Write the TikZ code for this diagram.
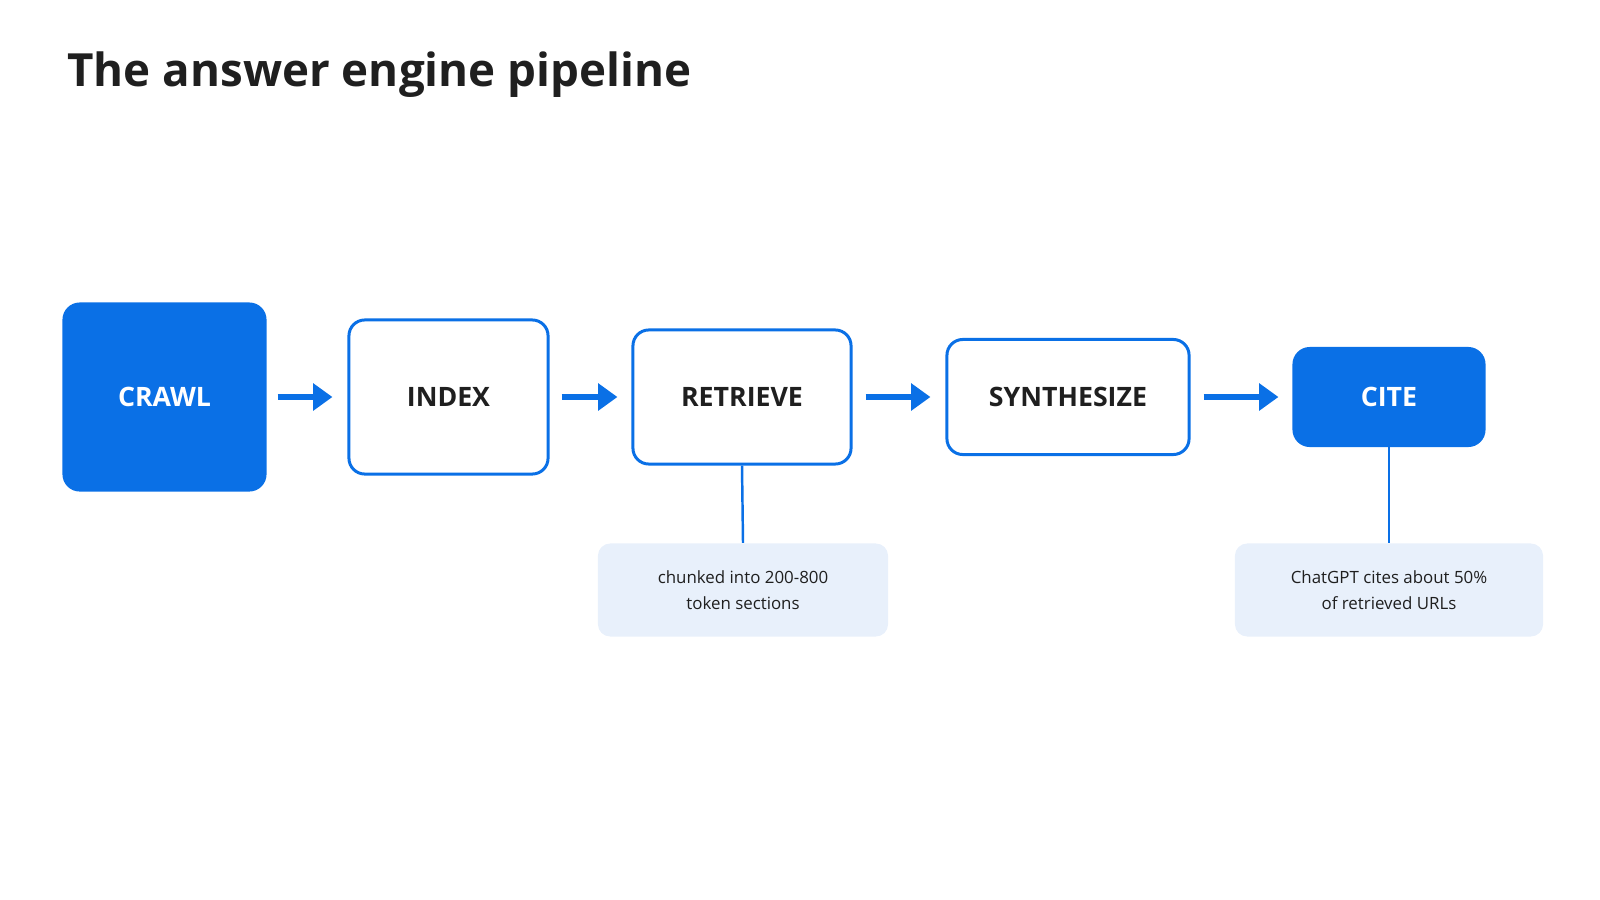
\documentclass[tikz,border=0pt]{standalone}
\usepackage{fontspec}
\setmainfont{Open Sans}
\usetikzlibrary{arrows.meta}
\definecolor{blue}{HTML}{0A70E6}
\definecolor{notebg}{HTML}{E8F0FB}
\definecolor{ink}{HTML}{1F1F1F}
\begin{document}
\begin{tikzpicture}[x=0.01cm,y=-0.01cm,
  stage/.style={rectangle,rounded corners=4.5pt,draw=blue,line width=0.85pt,fill=white,
    text=ink,font=\fontsize{7.6}{10}\selectfont\bfseries,inner sep=0pt},
  solid stage/.style={stage,fill=blue,text=white},
  note/.style={rectangle,rounded corners=3.5pt,fill=notebg,text=ink,align=center,
    font=\fontsize{4.8}{7.4}\selectfont,inner sep=0pt,minimum height=0.93cm},
  flow/.style={draw=blue,line width=1.6pt,-{Triangle[length=5.5pt,width=7.5pt]}},
  link/.style={draw=blue,line width=0.7pt}]
    \useasboundingbox (0,0) rectangle (1600,900);
    \node[anchor=west,text=ink,font=\fontsize{13}{15}\selectfont\bfseries] (title) at (55,75) {The answer engine pipeline};

    \node[solid stage,minimum width=2.01cm,minimum height=1.86cm] (crawl) at (164.5,397) {CRAWL};
    \node[stage,minimum width=1.99cm,minimum height=1.54cm] (index) at (448.5,397) {INDEX};
    \node[stage,minimum width=2.18cm,minimum height=1.34cm] (retrieve) at (742,397) {RETRIEVE};
    \node[stage,minimum width=2.42cm,minimum height=1.15cm] (synth) at (1068,397) {SYNTHESIZE};
    \node[solid stage,minimum width=1.90cm,minimum height=0.97cm] (cite) at (1389,397) {CITE};

    \node[note,minimum width=2.90cm] (chunk) at (743,590) {chunked into 200-800\\token sections};
    \node[note,minimum width=3.08cm] (share) at (1389,590) {ChatGPT cites about 50\%\\of retrieved URLs};

    \draw[flow] ([xshift=0.11cm]crawl.east) -- ([xshift=-0.15cm]index.west);
    \draw[flow] ([xshift=0.12cm]index.east) -- ([xshift=-0.14cm]retrieve.west);
    \draw[flow] ([xshift=0.13cm]retrieve.east) -- ([xshift=-0.15cm]synth.west);
    \draw[flow] ([xshift=0.13cm]synth.east) -- ([xshift=-0.14cm]cite.west);

    \draw[link] (retrieve.south) -- (chunk.north);
    \draw[link] (cite.south) -- (share.north);
\end{tikzpicture}
\end{document}
